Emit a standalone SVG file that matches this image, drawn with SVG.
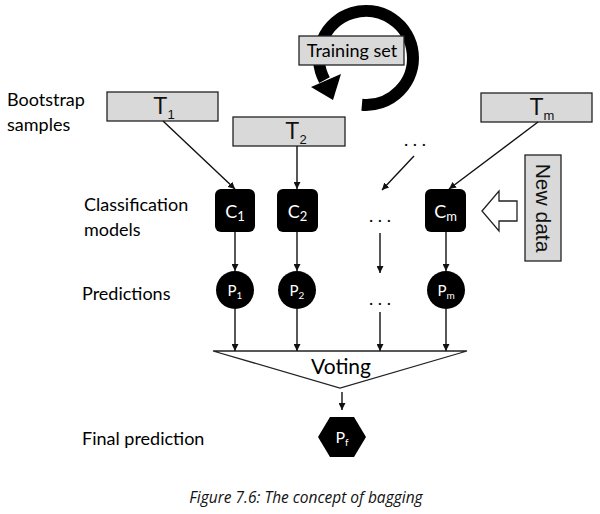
<svg xmlns="http://www.w3.org/2000/svg" width="600" height="514" viewBox="0 0 600 514">
<defs>
<style>
.lbl{font-family:Lato,"Open Sans","DejaVu Sans",sans-serif;font-size:18px;fill:#000}
.box{fill:#d9d9d9;stroke:#222;stroke-width:1.3}
.tl{font-family:"Liberation Sans",Arial,sans-serif;font-size:23px;fill:#111;text-anchor:middle}
.sub{font-size:13px}
.node{fill:#000}
.wt{font-family:Lato,"Open Sans",sans-serif;fill:#fff;text-anchor:middle}
.edge{stroke:#111;stroke-width:1.4;fill:none;marker-end:url(#ah)}
</style>
<marker id="ah" viewBox="0 0 10 10" refX="10" refY="5" markerWidth="7" markerHeight="7" markerUnits="userSpaceOnUse" orient="auto">
<path d="M0,0 L10,5 L0,10 z" fill="#111"/>
</marker>
</defs>
<rect width="600" height="514" fill="#fff"/>

<g id="training-set">
<path d="M361.9,104.8 A47,47 0 1 0 324.5,80.1" fill="none" stroke="#000" stroke-width="12"/>
<polygon points="341,74 311,87 333,100" fill="#000"/>
<rect class="box" x="299" y="36" width="105" height="29"/>
<text x="352" y="57" class="lbl" text-anchor="middle">Training set</text>
</g>

<g id="labels">
<text x="7" y="106" class="lbl">Bootstrap</text>
<text x="7" y="131" class="lbl">samples</text>
<text x="84" y="211" class="lbl">Classification</text>
<text x="84" y="236" class="lbl">models</text>
<text x="82" y="300" class="lbl">Predictions</text>
<text x="82" y="445" class="lbl">Final prediction</text>
</g>

<g id="T1">
<rect class="box" x="107" y="92" width="111" height="29"/>
<text x="164" y="114" class="tl">T<tspan class="sub" dy="5">1</tspan></text>
</g>
<g id="T2">
<rect class="box" x="233" y="117" width="112" height="29"/>
<text x="296" y="139" class="tl">T<tspan class="sub" dy="5">2</tspan></text>
</g>
<g id="Tm">
<rect class="box" x="481" y="93" width="111" height="29"/>
<text x="542" y="115" class="tl">T<tspan class="sub" dy="5">m</tspan></text>
</g>
<g id="dots">
<text x="415" y="146" class="lbl" text-anchor="middle">. . .</text>
<text x="380" y="222" class="lbl" text-anchor="middle">. . .</text>
<text x="380" y="305" class="lbl" text-anchor="middle">. . .</text>
</g>

<g id="new-data">
<rect class="box" x="525" y="155" width="36" height="106"/>
<text transform="translate(536,208) rotate(90)" x="0" y="0" text-anchor="middle" style="font-family:'Liberation Sans',Arial,sans-serif;font-size:21px;fill:#111">New data</text>
<polygon points="482,211 499,191 499,201 517,201 517,221 499,221 499,231" fill="#fff" stroke="#222" stroke-width="1.3"/>
</g>

<g id="C1"><rect class="node" x="215" y="189" width="40" height="43" rx="6"/><text x="235" y="218" class="wt" font-size="18">C<tspan font-size="13" dy="3">1</tspan></text></g>
<g id="C2"><rect class="node" x="277" y="189" width="41" height="43" rx="6"/><text x="297.5" y="218" class="wt" font-size="18">C<tspan font-size="13" dy="3">2</tspan></text></g>
<g id="Cm"><rect class="node" x="425" y="189" width="41" height="43" rx="6"/><text x="445.5" y="218" class="wt" font-size="18">C<tspan font-size="13" dy="3">m</tspan></text></g>

<g id="P1"><circle class="node" cx="235" cy="290" r="19"/><text x="235" y="296" class="wt" font-size="15">P<tspan font-size="10" dy="3">1</tspan></text></g>
<g id="P2"><circle class="node" cx="297" cy="290" r="19"/><text x="297" y="296" class="wt" font-size="15">P<tspan font-size="10" dy="3">2</tspan></text></g>
<g id="Pm"><circle class="node" cx="446" cy="290" r="19"/><text x="446" y="296" class="wt" font-size="15">P<tspan font-size="10" dy="3">m</tspan></text></g>

<g id="voting">
<polygon points="213,351 467,351 340,388" fill="#fff" stroke="#222" stroke-width="1.3"/>
<text x="341" y="374" class="lbl" text-anchor="middle" style="font-size:21px">Voting</text>
</g>

<g id="Pf">
<polygon points="318,437 330,417 354,417 366,437 354,457 330,457" fill="#000"/>
<text x="342" y="443" class="wt" font-size="16">P<tspan font-size="10" dy="3">f</tspan></text>
</g>

<g id="connectors">
<line class="edge" x1="163" y1="121" x2="235" y2="189"/>
<line class="edge" x1="297" y1="146" x2="297" y2="189"/>
<line class="edge" x1="538" y1="122" x2="449" y2="189"/>
<line class="edge" x1="414" y1="156" x2="382" y2="190"/>
<line class="edge" x1="235" y1="232" x2="235" y2="271"/>
<line class="edge" x1="297" y1="232" x2="297" y2="271"/>
<line class="edge" x1="380" y1="233" x2="380" y2="273"/>
<line class="edge" x1="446" y1="232" x2="446" y2="271"/>
<line class="edge" x1="235" y1="309" x2="235" y2="351"/>
<line class="edge" x1="297" y1="309" x2="297" y2="351"/>
<line class="edge" x1="380" y1="312" x2="380" y2="351"/>
<line class="edge" x1="446" y1="309" x2="446" y2="351"/>
<line class="edge" x1="342" y1="392" x2="342" y2="410"/>
</g>

<text x="306" y="503" text-anchor="middle" style="font-family:'Open Sans','Noto Sans',sans-serif;font-style:italic;font-size:15.5px;fill:#111">Figure 7.6: The concept of bagging</text>
</svg>
